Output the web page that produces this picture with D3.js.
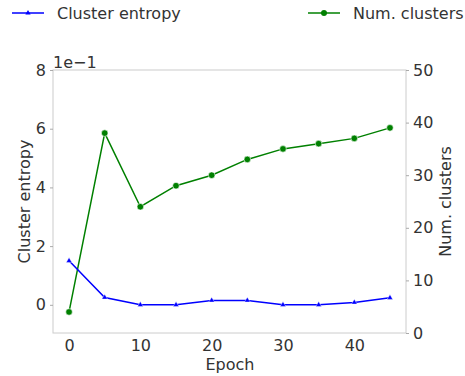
<!DOCTYPE html>
<html>
<head>
<meta charset="utf-8">
<script src="https://cdn.jsdelivr.net/npm/d3@7"></script>
<style>
  body { margin: 0; background: #fff; }
  text { font-family: "DejaVu Sans", sans-serif; fill: #333; }
</style>
</head>
<body>
<svg id="chart" width="465" height="376"></svg>
<script>
// data
const epochs = [0, 5, 10, 15, 20, 25, 30, 35, 40, 45]
const entropy = [1.5, 0.25, 0.0, 0.0, 0.15, 0.15, 0.0, 0.0, 0.08, 0.24] // x 1e-1
const clusters = [4, 38, 24, 28, 30, 33, 35, 36, 37, 39]
const leftTicks = [0, 2, 4, 6, 8]
const rightTicks = [0, 10, 20, 30, 40, 50]
const xTicks = [0, 10, 20, 30, 40]

const svg = d3.select('#chart')
const plotL = 53, plotR = 406, plotT = 70, plotB = 333
const fs = 16

const x = d3.scaleLinear().domain([-2.25, 47.25]).range([plotL, plotR])
const yL = d3.scaleLinear().domain([-0.96, 8]).range([plotB, plotT])
const yR = d3.scaleLinear().domain([0, 50]).range([plotB, plotT])

const grey = '#cccccc'

// frame
svg.append('rect')
  .attr('x', plotL).attr('y', plotT)
  .attr('width', plotR - plotL).attr('height', plotB - plotT)
  .attr('fill', 'none').attr('stroke', grey).attr('stroke-width', 1)

// x axis
const xAxis = svg.append('g').attr('transform', `translate(0,${plotB})`)
  .call(d3.axisBottom(x).tickValues(xTicks).tickSize(0).tickPadding(7))
xAxis.select('.domain').remove()
xAxis.selectAll('text').attr('font-size', fs).attr('fill', '#333')

// left axis
const yAxisL = svg.append('g').attr('transform', `translate(${plotL},0)`)
  .call(d3.axisLeft(yL).tickValues(leftTicks).tickSize(3).tickPadding(4))
yAxisL.select('.domain').remove()
yAxisL.selectAll('line').attr('stroke', '#aaa')
yAxisL.selectAll('text').attr('font-size', fs).attr('fill', '#333')

// right axis
const yAxisR = svg.append('g').attr('transform', `translate(${plotR},0)`)
  .call(d3.axisRight(yR).tickValues(rightTicks).tickSize(3).tickPadding(4))
yAxisR.select('.domain').remove()
yAxisR.selectAll('line').attr('stroke', '#aaa')
yAxisR.selectAll('text').attr('font-size', fs).attr('fill', '#333')

// offset label
svg.append('text').attr('x', 53).attr('y', 68)
  .attr('font-size', fs).text('1e\u22121')

// axis titles
svg.append('text').attr('x', 230).attr('y', 370)
  .attr('text-anchor', 'middle').attr('font-size', fs).text('Epoch')
svg.append('text')
  .attr('transform', `translate(30,${(plotT + plotB) / 2}) rotate(-90)`)
  .attr('text-anchor', 'middle').attr('font-size', fs).text('Cluster entropy')
svg.append('text')
  .attr('transform', `translate(451,${(plotT + plotB) / 2}) rotate(-90)`)
  .attr('text-anchor', 'middle').attr('font-size', fs).text('Num. clusters')

// green line
const lineR = d3.line().x((d, i) => x(epochs[i])).y(d => yR(d))
svg.append('path').datum(clusters)
  .attr('d', lineR).attr('fill', 'none').attr('stroke', 'green').attr('stroke-width', 1.5)
svg.selectAll('.dotR').data(clusters).enter().append('circle')
  .attr('class', 'dotR')
  .attr('cx', (d, i) => x(epochs[i])).attr('cy', d => yR(d))
  .attr('r', 3.3).attr('fill', 'green').attr('stroke', '#fff').attr('stroke-width', 0.6)

// blue line
const lineL = d3.line().x((d, i) => x(epochs[i])).y(d => yL(d))
svg.append('path').datum(entropy)
  .attr('d', lineL).attr('fill', 'none').attr('stroke', 'blue').attr('stroke-width', 1.5)
const tri = d3.symbol().type(d3.symbolTriangle).size(14)
svg.selectAll('.dotL').data(entropy).enter().append('path')
  .attr('class', 'dotL')
  .attr('d', tri)
  .attr('transform', (d, i) => `translate(${x(epochs[i])},${yL(d)})`)
  .attr('fill', 'blue').attr('stroke', '#fff').attr('stroke-width', 0.4)

// legend
const legend = [
  { label: 'Cluster entropy', color: 'blue', x: 12, marker: 'tri' },
  { label: 'Num. clusters', color: 'green', x: 308, marker: 'dot' }
]
const lg = svg.selectAll('.lg').data(legend).enter().append('g')
  .attr('class', 'lg').attr('transform', d => `translate(${d.x},13)`)
lg.append('line').attr('x1', 0).attr('x2', 32).attr('y1', 0).attr('y2', 0)
  .attr('stroke', d => d.color).attr('stroke-width', 1.5)
lg.filter(d => d.marker === 'dot').append('circle')
  .attr('cx', 16).attr('cy', 0).attr('r', 3).attr('fill', d => d.color)
lg.filter(d => d.marker === 'tri').append('path')
  .attr('d', d3.symbol().type(d3.symbolTriangle).size(12))
  .attr('transform', 'translate(16,0)').attr('fill', d => d.color)
lg.append('text').attr('x', 45).attr('y', 6)
  .attr('font-size', fs).text(d => d.label)
</script>
</body>
</html>
